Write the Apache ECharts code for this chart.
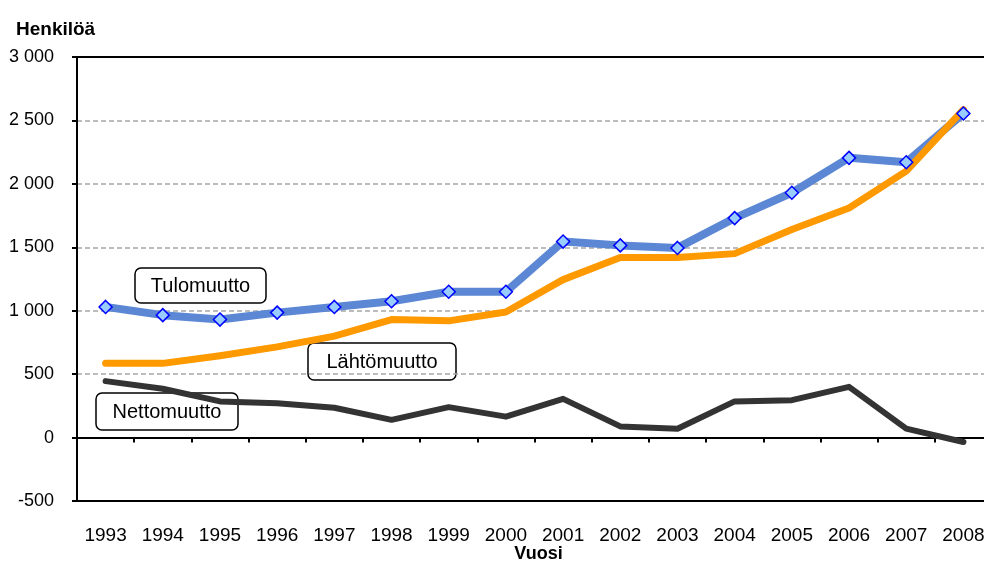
<!DOCTYPE html>
<html>
<head>
<meta charset="utf-8">
<script src="https://cdn.jsdelivr.net/npm/echarts@6/dist/echarts.min.js"></script>
<style>
  html, body { margin: 0; padding: 0; background: #fff; }
  #chart { width: 984px; height: 561px; }
</style>
</head>
<body>
<div id="chart"></div>
<script>
// vuodet ja muuttoliike (henkilöä), luettu kuvasta
var years = ['1993', '1994', '1995', '1996', '1997', '1998', '1999', '2000',
  '2001', '2002', '2003', '2004', '2005', '2006', '2007', '2008'];
var tulomuutto = [1030, 965, 930, 985, 1030, 1075, 1150, 1150, 1545, 1515, 1495, 1730, 1930, 2205, 2170, 2555];
var lahtomuutto = [585, 585, 645, 715, 800, 930, 920, 990, 1245, 1420, 1420, 1450, 1640, 1810, 2100, 2585];
var nettomuutto = [445, 385, 285, 270, 235, 140, 240, 165, 305, 88, 70, 285, 295, 400, 70, -35];

var FONT = 'Liberation Sans, Arial, sans-serif';

var chart = echarts.init(document.getElementById('chart'));

// selitelaatikko (rect + teksti)
function labelBox(txt, x, y, w, h) {
  return {
    type: 'group', x: x, y: y, z: 100,
    children: [
      { type: 'rect', shape: { x: 0, y: 0, width: w, height: h, r: 6 },
        style: { fill: '#fff', stroke: '#000', lineWidth: 1.5 } },
      { type: 'text', x: w / 2, y: h / 2 + 1,
        style: { text: txt, font: '20px ' + FONT, fill: '#000', align: 'center', verticalAlign: 'middle' } }
    ]
  };
}

var option = {
  animation: false,
  backgroundColor: '#fff',
  title: {
    text: 'Henkilöä',
    left: 11, top: 15,
    textStyle: { fontFamily: FONT, fontSize: 19, fontWeight: 'bold', color: '#000' }
  },
  grid: {
    left: 77, width: 915, top: 57, height: 444,
    containLabel: false,
    outerBoundsMode: 'none',
    show: true, borderColor: '#000', borderWidth: 2, backgroundColor: 'transparent'
  },
  xAxis: [
    {
      // alareuna + vuosiluvut
      type: 'category',
      data: years,
      position: 'bottom',
      boundaryGap: true,
      axisLine: { onZero: false, lineStyle: { color: '#000', width: 2 } },
      axisTick: { show: false },
      axisLabel: { color: '#000', fontFamily: FONT, fontSize: 19, margin: 25 },
      name: 'Vuosi',
      nameLocation: 'middle',
      nameGap: 44,
      nameMoveOverlap: false,
      nameTextStyle: { color: '#000', fontFamily: FONT, fontSize: 18, fontWeight: 'bold', padding: [0, 0, 0, 8] }
    },
    {
      // nollataso ja väliviivat
      type: 'category',
      data: years,
      position: 'bottom',
      boundaryGap: true,
      axisLine: { onZero: true, lineStyle: { color: '#000', width: 2 } },
      axisTick: { show: true, inside: false, length: 5, lineStyle: { color: '#000', width: 2 } },
      axisLabel: { show: false }
    }
  ],
  yAxis: {
    type: 'value',
    min: -500, max: 3000, interval: 500,
    axisLine: { show: true, lineStyle: { color: '#000', width: 2 } },
    axisTick: { show: true, length: 5, lineStyle: { color: '#000', width: 2 } },
    axisLabel: {
      color: '#000', fontFamily: FONT, fontSize: 18, margin: 23,
      formatter: function (v) {
        var s = String(Math.abs(v));
        if (s.length > 3) s = s.slice(0, s.length - 3) + ' ' + s.slice(-3);
        return (v < 0 ? '-' : '') + s;
      }
    },
    splitLine: {
      show: true, showMinLine: false, showMaxLine: false,
      lineStyle: { color: '#a6a6a6', width: 1.5, type: [5, 3] }
    }
  },
  series: [
    {
      name: 'Tulomuutto',
      type: 'line',
      data: tulomuutto,
      symbol: 'diamond',
      symbolSize: 13,
      showAllSymbol: true,
      itemStyle: { color: '#99ccff', borderColor: '#0000ff', borderWidth: 1.5 },
      lineStyle: { color: '#5b87d4', width: 8, join: 'round' }
    },
    {
      name: 'Lähtömuutto',
      type: 'line',
      data: lahtomuutto,
      showSymbol: false,
      lineStyle: { color: '#ff9900', width: 7, cap: 'round', join: 'round' }
    },
    {
      name: 'Nettomuutto',
      type: 'line',
      data: nettomuutto,
      showSymbol: false,
      lineStyle: { color: '#333333', width: 6, cap: 'round', join: 'round' }
    }
  ],
  graphic: [
    labelBox('Tulomuutto', 135, 268, 131, 35),
    labelBox('Lähtömuutto', 308, 343, 148, 37),
    labelBox('Nettomuutto', 96, 393, 142, 37)
  ]
};

chart.setOption(option);
</script>
</body>
</html>
